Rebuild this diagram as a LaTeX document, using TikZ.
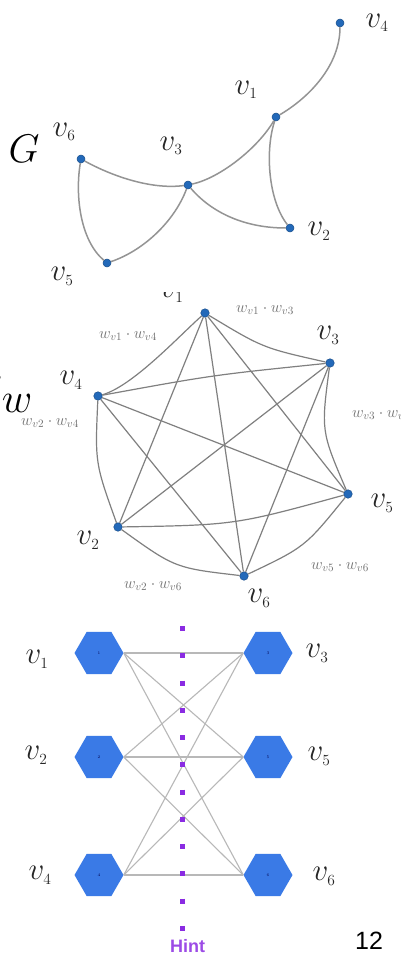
\documentclass[tikz,border=0pt]{standalone}
\usepackage{fix-cm}
\usepackage{fontspec}
\setsansfont{Liberation Sans}
\usetikzlibrary{shapes.geometric}
\definecolor{dotblue}{RGB}{35,105,185}
\definecolor{hexblue}{RGB}{58,122,230}
\definecolor{hintpurple}{RGB}{138,43,226}
\newcommand\vlb[1]{$v_{\scriptscriptstyle #1}$}
\tikzset{
 gdot/.style={circle, fill=dotblue, draw=dotblue!75!black, line width=0.5pt, inner sep=0pt, minimum size=8pt},
 gedge/.style={draw=black!42, line width=1.5pt},
 kedge/.style={draw=black!50, line width=1.2pt},
 bedge/.style={draw=black!28, line width=1.1pt},
 hexnode/.style={regular polygon, regular polygon sides=6, fill=hexblue, draw=none, inner sep=0pt, minimum size=49pt, font=\fontsize{4}{4}\selectfont, text=blue!30!black},
 vlab/.style={inner sep=0pt, text=black!85, font=\fontsize{31}{31}\selectfont},
 wlab/.style={inner sep=0pt, text=black!55, font=\fontsize{16}{16}\selectfont},
 hintline/.style={draw=hintpurple, line width=5pt, dash pattern=on 5pt off 22.27pt},
}
\begin{document}
\begin{tikzpicture}[x=1pt,y=-1pt]
\useasboundingbox (0,0) rectangle (401,955);
\fill[white] (0,0) rectangle (401,955);

% ---------- top graph G ----------
\node[inner sep=0pt, font=\fontsize{40}{40}\selectfont] (G) at (24,149) {$G$};
\node[gdot] (a4) at (340,23) {};
\node[gdot] (a1) at (276,117) {};
\node[gdot] (a6) at (81,159) {};
\node[gdot] (a3) at (188,185) {};
\node[gdot] (a2) at (290,228) {};
\node[gdot] (a5) at (107,263) {};
\draw[gedge] (a4) .. controls (340,65) and (310,97) .. (a1);
\draw[gedge] (a1) .. controls (258,148) and (220,178) .. (a3);
\draw[gedge] (a1) .. controls (265,150) and (268,200) .. (a2);
\draw[gedge] (a3) .. controls (212,213) and (245,228) .. (a2);
\draw[gedge] (a6) .. controls (110,175) and (150,190) .. (a3);
\draw[gedge] (a6) .. controls (75,195) and (80,240) .. (a5);
\draw[gedge] (a3) .. controls (175,220) and (145,250) .. (a5);
\node[vlab] (la4) at (377,23) {\vlb{4}};
\node[vlab] (la1) at (246,90) {\vlb{1}};
\node[vlab] (la6) at (64,132) {\vlb{6}};
\node[vlab] (la3) at (171,146) {\vlb{3}};
\node[vlab] (la2) at (319,231) {\vlb{2}};
\node[vlab] (la5) at (62,276) {\vlb{5}};

% ---------- middle graph G_w ----------
\node[inner sep=0pt, anchor=south east, font=\fontsize{42}{42}\selectfont] (Gw) at (33,413) {$G_{\textstyle w}$};
\node[gdot, minimum size=8.5pt] (m1) at (205,313) {};
\node[gdot, minimum size=8.5pt] (m3) at (330,363) {};
\node[gdot, minimum size=8.5pt] (m4) at (98,396) {};
\node[gdot, minimum size=8.5pt] (m5) at (348,494) {};
\node[gdot, minimum size=8.5pt] (m2) at (118,527) {};
\node[gdot, minimum size=8.5pt] (m6) at (244,576) {};
\draw[kedge] (m1) .. controls (263,348) .. (m3);
\draw[kedge] (m4) .. controls (133,386) and (179,336) .. (m1);
\draw[kedge] (m3) .. controls (321,431) .. (m5);
\draw[kedge] (m5) .. controls (305,547) .. (m6);
\draw[kedge] (m6) .. controls (175,568) .. (m2);
\draw[kedge] (m2) .. controls (95,463) .. (m4);
\draw[kedge] (m4) .. controls (213,375) .. (m3);
\draw[kedge] (m2) .. controls (235,525) .. (m5);
\draw[kedge] (m1) -- (m2);
\draw[kedge] (m1) -- (m5);
\draw[kedge] (m1) -- (m6);
\draw[kedge] (m3) -- (m2);
\draw[kedge] (m3) -- (m6);
\draw[kedge] (m4) -- (m5);
\draw[kedge] (m4) -- (m6);
\begin{scope}
\clip (0,292) rectangle (401,330);
\node[vlab] (lm1) at (172,293) {\vlb{1}};
\end{scope}
\node[vlab] (lm3) at (328,335) {\vlb{3}};
\node[vlab] (lm4) at (71,380) {\vlb{4}};
\node[vlab] (lm5) at (382,503) {\vlb{5}};
\node[vlab] (lm2) at (88,540) {\vlb{2}};
\node[vlab] (lm6) at (259,598) {\vlb{6}};
\node[wlab] (w13) at (265,310) {$w_{v1}\cdot w_{v3}$};
\node[wlab] (w14) at (128,336) {$w_{v1}\cdot w_{v4}$};
\node[wlab] (w35) at (381,415) {$w_{v3}\cdot w_{v5}$};
\node[wlab] (w24) at (50,423) {$w_{v2}\cdot w_{v4}$};
\node[wlab] (w56) at (340,567) {$w_{v5}\cdot w_{v6}$};
\node[wlab] (w26) at (153,586) {$w_{v2}\cdot w_{v6}$};

% ---------- bottom bipartite graph ----------
\node[hexnode] (h1) at (99,653) {1};
\node[hexnode] (h2) at (99,757) {2};
\node[hexnode] (h4) at (99,875) {4};
\node[hexnode] (h3) at (268,653) {3};
\node[hexnode] (h5) at (268,757) {5};
\node[hexnode] (h6) at (268,875) {6};
\foreach \l in {h1,h2,h4}{
  \foreach \r in {h3,h5,h6}{
    \draw[bedge] (\l.east) -- (\r.west);
  }
}
\coordinate (ht) at (182,626);
\coordinate (hb) at (182,932);
\draw[hintline] (ht) -- (hb);
\node[inner sep=0pt, text=hintpurple!85, font=\sffamily\bfseries\fontsize{18}{18}\selectfont] (hint) at (187.5,946) {Hint};
\node[inner sep=0pt, font=\sffamily\fontsize{25}{25}\selectfont] (pg) at (369,941) {12};
\node[vlab] (lb1) at (37,659) {\vlb{1}};
\node[vlab] (lb2) at (36,755) {\vlb{2}};
\node[vlab] (lb4) at (40,875) {\vlb{4}};
\node[vlab] (lb3) at (317,653) {\vlb{3}};
\node[vlab] (lb5) at (319,756) {\vlb{5}};
\node[vlab] (lb6) at (324,876) {\vlb{6}};
\end{tikzpicture}
\end{document}
